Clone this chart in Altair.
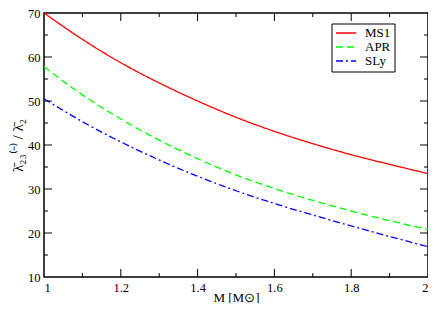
import altair as alt
import pandas as pd

# ---- data ----
mass = [1.0, 1.1, 1.2, 1.3, 1.4, 1.5, 1.6, 1.7, 1.8, 1.9, 2.0]
ms1 = [70.0, 64.0, 58.7, 54.1, 50.0, 46.3, 43.1, 40.3, 37.8, 35.6, 33.5]
apr = [57.8, 51.4, 45.9, 41.1, 36.9, 33.2, 30.1, 27.4, 25.0, 22.8, 20.8]
sly = [50.5, 45.3, 40.7, 36.6, 32.9, 29.6, 26.7, 24.1, 21.6, 19.2, 16.9]

series_names = ["MS1", "APR", "SLy"]
series_colors = ["#ff0000", "#00ff00", "#0000ff"]
series_dashes = [[1, 0], [7, 4], [7, 3, 2, 3]]

x_major = [1.0, 1.2, 1.4, 1.6, 1.8, 2.0]
x_minor = [1.1, 1.3, 1.5, 1.7, 1.9]
y_major = [10, 20, 30, 40, 50, 60, 70]
y_minor = [15, 25, 35, 45, 55, 65]

W, H = 384, 264
FONT = "Liberation Serif"

rows = []
for name, vals in zip(series_names, [ms1, apr, sly]):
    for m, v in zip(mass, vals):
        rows.append({"M": m, "val": v, "eos": name})
df = pd.DataFrame(rows)

xscale = alt.Scale(domain=[1, 2], nice=False, zero=False)
yscale = alt.Scale(domain=[10, 70], nice=False, zero=False)
cscale = alt.Scale(domain=series_names, range=series_colors)
dscale = alt.Scale(domain=series_names, range=series_dashes)

xaxis = alt.Axis(values=x_major, format="~g", title="M [M\u2299]",
                 ticks=False, domain=False, grid=False,
                 labelPadding=4, titleBaseline="alphabetic", titleY=24)

lines = alt.Chart(df).mark_line(strokeWidth=1.3, interpolate="monotone").encode(
    x=alt.X("M:Q", scale=xscale, axis=xaxis),
    y=alt.Y("val:Q", scale=yscale,
            axis=alt.Axis(values=y_major,
                          title="\u03bb\u0304\u2082\u2083\u207d\u207b\u207e / \u03bb\u0304\u2082",
                          ticks=False, domain=False, grid=False,
                          labelPadding=4, titlePadding=2, titleFontSize=15)),
    color=alt.Color("eos:N", scale=cscale, legend=None),
    strokeDash=alt.StrokeDash("eos:N", scale=dscale, legend=None),
)

def xticks(vals, length):
    d = pd.DataFrame({"t": vals})
    b = alt.Chart(d).mark_rule(color="black", strokeWidth=1).encode(
        x=alt.X("t:Q", scale=xscale, axis=xaxis, title="M [M\u2299]"),
        y=alt.value(H), y2=alt.value(H - length))
    t = alt.Chart(d).mark_rule(color="black", strokeWidth=1).encode(
        x=alt.X("t:Q", scale=xscale, axis=xaxis, title="M [M\u2299]"),
        y=alt.value(0), y2=alt.value(length))
    return [b, t]

def yticks(vals, length):
    d = pd.DataFrame({"t": vals})
    l = alt.Chart(d).mark_rule(color="black", strokeWidth=1).encode(
        y=alt.Y("t:Q", scale=yscale, axis=None), x=alt.value(0), x2=alt.value(length))
    r = alt.Chart(d).mark_rule(color="black", strokeWidth=1).encode(
        y=alt.Y("t:Q", scale=yscale, axis=None), x=alt.value(W), x2=alt.value(W - length))
    return [l, r]

tick_layers = xticks(x_major[1:-1], 8) + xticks(x_minor, 4) + yticks(y_major[1:-1], 8) + yticks(y_minor, 4)

# ---- legend box (manual, placed like the reference) ----
leg_df = pd.DataFrame({"eos": series_names})
leg_y = alt.Scale(type="point", domain=series_names, range=[20, 48], padding=0)
leg_box = alt.Chart(pd.DataFrame({"k": [0]})).mark_rect(
    fill="white", stroke="black", strokeWidth=1
).encode(x=alt.value(288), x2=alt.value(351), y=alt.value(11), y2=alt.value(59))
leg_lines = alt.Chart(leg_df).mark_rule(strokeWidth=1.3).encode(
    x=alt.value(292), x2=alt.value(312),
    y=alt.Y("eos:N", scale=leg_y, axis=None),
    color=alt.Color("eos:N", scale=cscale, legend=None),
    strokeDash=alt.StrokeDash("eos:N", scale=dscale, legend=None),
)
leg_text = alt.Chart(leg_df).mark_text(
    align="left", baseline="middle", font=FONT, fontSize=13, color="black"
).encode(
    x=alt.value(321),
    y=alt.Y("eos:N", scale=leg_y, axis=None),
    text="eos:N",
)
legend_layer = alt.layer(leg_box, leg_lines, leg_text)

chart = alt.layer(lines, *tick_layers, legend_layer).resolve_scale(
    y="independent"
).properties(
    width=W, height=H,
    autosize=alt.AutoSizeParams(type="none"),
    padding={"left": 36, "top": 5, "right": 0, "bottom": 26},
).configure_view(
    stroke="black", strokeWidth=1.5
).configure_axis(
    labelFont=FONT, labelFontSize=12.5, labelColor="black",
    titleFont=FONT, titleFontSize=13, titleFontWeight="normal", titleColor="black",
)

chart.save("out.html", embed_options={"renderer": "svg", "actions": False})
